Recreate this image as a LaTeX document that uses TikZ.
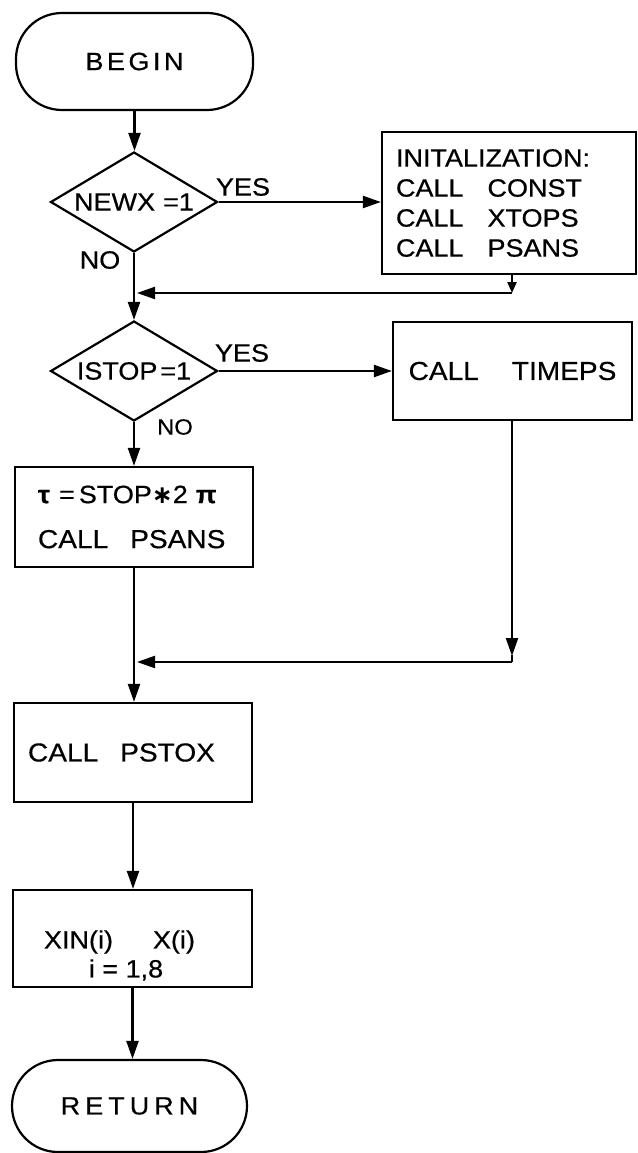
\documentclass[tikz,border=0pt]{standalone}
\usepackage{fontspec}
\setmainfont{Liberation Sans}[FakeStretch=1.08,FakeBold=0.5]
\newfontfamily\dejavu{DejaVu Sans}
\usetikzlibrary{arrows.meta,shapes.geometric}
\begin{document}
\begin{tikzpicture}[x=1pt,y=-1pt,
  line width=2.2pt,
  arr/.style={-{Triangle[length=18pt,width=12pt]}},
  sarr/.style={-{Triangle[length=11pt,width=9pt]}},
  box/.style={draw, rectangle, inner sep=0pt},
  dec/.style={draw, diamond, aspect=1.67, minimum width=167pt, minimum height=100pt, inner sep=0pt},
  term/.style={draw, rectangle, rounded corners=46pt, inner sep=0pt},
  lab/.style={inner sep=0pt},
  every node/.style={font=\fontsize{25}{30}\selectfont}
]
\useasboundingbox (0,0) rectangle (637,1153);

% nodes
\node[term, minimum width=237pt, minimum height=97pt] (begin) at (134.5,61.5) {B\kern3.5pt E\kern3.5pt G\kern3.5pt I\kern3.5pt N};
\node[dec] (newx) at (134,202) {NEWX\hspace{8pt}=1};
\node[box, minimum width=254pt, minimum height=142pt, text width=226pt, align=left] (init) at (509,203)
  {INITALIZATION:\\CALL\hspace{24pt}CONST\\CALL\hspace{24pt}XTOPS\\CALL\hspace{24pt}PSANS};
\node[dec] (istop) at (134,371) {ISTOP\hspace{3pt}=1};
\node[box, minimum width=239pt, minimum height=98pt, font=\fontsize{26}{30}\selectfont] (timeps) at (512.5,371) {CALL\hspace{33pt}TIMEPS};
\node[box, minimum width=238pt, minimum height=100pt, text width=192pt, align=left, font=\fontsize{26}{45}\selectfont] (tau) at (134,517)
  {{\fontsize{25}{45}\selectfont\textbf{τ}\hspace{9pt}=\hspace{4pt}STOP{\dejavu\bfseries ∗}2\hspace{8pt}\textbf{π}}\\CALL\hspace{22pt}PSANS};
\node[box, minimum width=238pt, minimum height=99pt, text width=210pt, align=left, font=\fontsize{26}{30}\selectfont] (pstox) at (133,752.5) {CALL\hspace{22pt}PSTOX};
\node[box, minimum width=239pt, minimum height=97pt] (xin) at (132.5,938.5) {};
\node[lab] (xin1) at (119.5,942) {XIN(i)\hspace{40pt}X(i)};
\node[lab] (xin2) at (126,970) {i = 1,8};
\node[term, minimum width=235pt, minimum height=92pt] (ret) at (129.5,1106) {R\kern5pt E\kern5pt T\kern5pt U\kern5pt R\kern5pt N};

% labels
\node[lab] (y1) at (243,187) {YES};
\node[lab] (n1) at (100,260) {NO};
\node[lab] (y2) at (242,353) {YES};
\node[lab, font=\fontsize{22}{24}\selectfont] (n2) at (175,427) {NO};

% junctions
\coordinate (j1) at (512,293);
\coordinate (j2) at (512,662);

% connectors
\draw[arr] (begin.south) -- (begin.south |- newx.north);
\draw[arr] (newx.east) -- (init.west |- newx.east);
\draw[sarr] (init.south -| j1) -- (j1);
\draw[arr] (j1) -- ([xshift=3pt]newx.south |- j1);
\draw[arr] (newx.south) -- (istop.north);
\draw[arr] (istop.east) -- (timeps.west |- istop.east);
\draw[arr] (istop.south) -- (tau.north);
\draw[arr] (timeps.south -| j2) -- ([yshift=6pt]j2);
\draw ([yshift=7pt]j2) -- (j2);
\draw[arr] (j2) -- ([xshift=3pt]tau.south |- j2);
\draw[arr] (tau.south) -- (tau.south |- pstox.north);
\draw[arr] (pstox.south) -- (pstox.south |- xin.north);
\draw[arr] (xin.south) -- (xin.south |- ret.north);
\end{tikzpicture}
\end{document}
